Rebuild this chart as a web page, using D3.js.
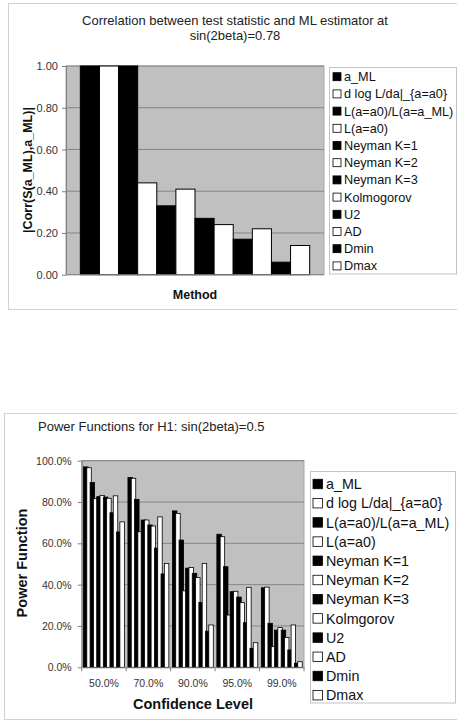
<!DOCTYPE html>
<html>
<head>
<meta charset="utf-8">
<script src="https://cdn.jsdelivr.net/npm/d3@7"></script>
<style>
  html, body { margin: 0; padding: 0; background: #fff; }
  svg { display: block; font-family: "Liberation Sans", Arial, sans-serif; }
</style>
</head>
<body>
<svg id="chart" width="457" height="721"></svg>
<script>
// ---- data ----
const methods = ["a_ML", "d log L/da|_{a=a0}", "L(a=a0)/L(a=a_ML)", "L(a=a0)", "Neyman K=1",
  "Neyman K=2", "Neyman K=3", "Kolmogorov", "U2", "AD", "Dmin", "Dmax"];
const powerLegend = ["a_ML", "d log L/da|_{a=a0}", "L(a=a0)/L(a=a_ML)", "L(a=a0)", "Neyman K=1",
  "Neyman K=2", "Neyman K=3", "Kolmgorov", "U2", "AD", "Dmin", "Dmax"];

// |Corr(S(a_ML), a_ML)| at sin(2beta)=0.78, one value per method
const correlations = [1.00, 1.00, 1.00, 0.44, 0.33, 0.41, 0.27, 0.24, 0.17, 0.22, 0.06, 0.14];
const corrTicks = [0, 0.2, 0.4, 0.6, 0.8, 1.0];

// Power (%) for H1: sin(2beta)=0.5, one array per confidence level, methods in order
const confidenceLevels = ["50.0%", "70.0%", "90.0%", "95.0%", "99.0%"];
const power50 = [97.0, 96.6, 89.4, 81.6, 82.6, 83.2, 82.4, 81.8, 74.8, 83.0, 65.5, 70.4];
const power70 = [91.9, 91.5, 81.3, 65.6, 71.3, 71.3, 68.9, 68.4, 57.7, 72.8, 45.2, 50.3];
const power90 = [75.7, 74.5, 61.6, 37.0, 48.0, 48.3, 45.5, 43.4, 31.4, 50.3, 17.5, 20.5];
const power95 = [64.4, 63.2, 48.7, 25.3, 36.6, 36.8, 34.0, 31.3, 21.6, 38.7, 9.2, 11.9];
const power99 = [38.5, 38.8, 21.3, 10.0, 18.0, 19.2, 18.0, 14.4, 8.4, 20.5, 2.0, 2.7];
const powerTicks = [0, 20, 40, 60, 80, 100];

const powerTable = [power50, power70, power90, power95, power99];

// ---- drawing ----
const svg = d3.select("#chart");
const fillFor = i => (i % 2 === 0 ? "#000" : "#fff");
const PLOT_BG = "#c0c0c0", GRID = "#858585", AXIS = "#808080", FRAME = "#d2d2d2";

function legend(g, labels, opt) {
  g.append("rect")
    .attr("x", opt.x).attr("y", opt.y).attr("width", opt.w).attr("height", opt.h)
    .attr("fill", "#fff").attr("stroke", "#c4c4c4");
  const row = g.selectAll("g.item").data(labels).join("g").attr("class", "item")
    .attr("transform", (d, i) => `translate(0,${opt.firstY + i * opt.rowH})`);
  row.append("rect")
    .attr("x", opt.swX).attr("y", -opt.sw / 2).attr("width", opt.sw).attr("height", opt.sw)
    .attr("fill", (d, i) => fillFor(i)).attr("stroke", "#000").attr("stroke-width", 0.8);
  row.append("text")
    .attr("x", opt.textX).attr("y", 0).attr("dy", "0.36em")
    .attr("font-size", opt.font).attr("fill", "#111").text(d => d);
}

// ===== Chart 1: correlation =====
{
  const g = svg.append("g");
  g.append("rect").attr("x", 8.5).attr("y", 3.5).attr("width", 470).attr("height", 306)
    .attr("fill", "#fff").attr("stroke", FRAME);

  g.append("text").attr("x", 235).attr("y", 20).attr("dy", "0.36em").attr("text-anchor", "middle")
    .attr("font-size", 13).attr("fill", "#222").text("Correlation between test statistic and ML estimator at");
  g.append("text").attr("x", 235).attr("y", 35).attr("dy", "0.36em").attr("text-anchor", "middle")
    .attr("font-size", 13).attr("fill", "#222").text("sin(2beta)=0.78");

  const L = 66, R = 324, T = 66, B = 274.7;
  const y = d3.scaleLinear().domain([0, 1]).range([B, T]);
  const x = d3.scaleBand().domain(methods).range([L, R]).paddingInner(0).paddingOuter(0.75);

  g.append("rect").attr("x", L).attr("y", T).attr("width", R - L).attr("height", B - T)
    .attr("fill", PLOT_BG).attr("stroke", "#a8a8a8");
  g.selectAll("line.grid").data(corrTicks.filter(t => t > 0)).join("line").attr("class", "grid")
    .attr("x1", L).attr("x2", R).attr("y1", d => y(d)).attr("y2", d => y(d))
    .attr("stroke", GRID).attr("stroke-width", 1);

  g.selectAll("rect.bar").data(correlations).join("rect").attr("class", "bar")
    .attr("x", (d, i) => x(methods[i])).attr("y", d => y(d))
    .attr("width", x.bandwidth()).attr("height", d => B - y(d))
    .attr("fill", (d, i) => fillFor(i)).attr("stroke", "#000").attr("stroke-width", 1);

  const ya = g.append("g").attr("transform", `translate(${L},0)`)
    .call(d3.axisLeft(y).tickValues(corrTicks).tickFormat(d3.format(".2f")).tickSize(4).tickPadding(4).tickSizeOuter(0));
  ya.select(".domain").attr("stroke", AXIS);
  ya.selectAll(".tick line").attr("stroke", AXIS);
  ya.selectAll("text").attr("font-size", 11).attr("fill", "#333").attr("font-family", null);

  g.append("line").attr("x1", L).attr("x2", R).attr("y1", B).attr("y2", B).attr("stroke", AXIS);

  g.append("text").attr("transform", `translate(27,170) rotate(-90)`).attr("dy", "0.36em")
    .attr("text-anchor", "middle").attr("font-size", 12.5).attr("font-weight", "bold").attr("fill", "#111")
    .text("|Corr(S(a_ML),a_ML)|");
  g.append("text").attr("x", 195).attr("y", 294).attr("dy", "0.36em").attr("text-anchor", "middle")
    .attr("font-size", 12.5).attr("font-weight", "bold").attr("fill", "#111").text("Method");

  legend(g, methods, { x: 329.5, y: 67.5, w: 127, h: 206.5, firstY: 76.7, rowH: 17.2,
    swX: 333, sw: 8, textX: 344, font: 12.7 });
}

// ===== Chart 2: power functions =====
{
  const g = svg.append("g");
  g.append("rect").attr("x", 4.5).attr("y", 413.5).attr("width", 470).attr("height", 306)
    .attr("fill", "#fff").attr("stroke", FRAME);

  g.append("text").attr("x", 38).attr("y", 426).attr("dy", "0.36em")
    .attr("font-size", 13).attr("fill", "#222").text("Power Functions for H1: sin(2beta)=0.5");

  const L = 81.7, R = 304, T = 460.7, B = 667.3;
  const y = d3.scaleLinear().domain([0, 100]).range([B, T]);
  const x0 = d3.scaleBand().domain(confidenceLevels).range([L, R]).paddingInner(0.08).paddingOuter(0.04);
  const barW = x0.bandwidth() * 0.11;
  const step = (x0.bandwidth() - barW) / (methods.length - 1);

  g.append("rect").attr("x", L).attr("y", T).attr("width", R - L).attr("height", B - T)
    .attr("fill", PLOT_BG).attr("stroke", "#a8a8a8");
  g.selectAll("line.grid").data(powerTicks.filter(t => t > 0)).join("line").attr("class", "grid")
    .attr("x1", L).attr("x2", R).attr("y1", d => y(d)).attr("y2", d => y(d))
    .attr("stroke", GRID).attr("stroke-width", 1);

  const groups = g.selectAll("g.level").data(powerTable).join("g").attr("class", "level")
    .attr("transform", (d, i) => `translate(${x0(confidenceLevels[i])},0)`);
  groups.selectAll("rect").data(d => d).join("rect")
    .attr("x", (d, i) => i * step).attr("y", d => y(d))
    .attr("width", barW).attr("height", d => B - y(d))
    .attr("fill", (d, i) => fillFor(i)).attr("stroke", "#000").attr("stroke-width", 0.8);

  const ya = g.append("g").attr("transform", `translate(${L},0)`)
    .call(d3.axisLeft(y).tickValues(powerTicks).tickFormat(d => d.toFixed(1) + "%").tickSize(4).tickPadding(6).tickSizeOuter(0));
  ya.select(".domain").attr("stroke", AXIS);
  ya.selectAll(".tick line").attr("stroke", AXIS);
  ya.selectAll("text").attr("font-size", 10.5).attr("fill", "#333").attr("font-family", null);

  const xa = g.append("g").attr("transform", `translate(0,${B})`)
    .call(d3.axisBottom(x0).tickSize(0).tickPadding(0).tickSizeOuter(0));
  xa.select(".domain").attr("stroke", AXIS);
  xa.selectAll("text").attr("y", 15.7).attr("dy", "0.36em")
    .attr("font-size", 10.5).attr("fill", "#333").attr("font-family", null);
  // category separators below the axis
  g.selectAll("line.sep").data(d3.range(confidenceLevels.length + 1)).join("line").attr("class", "sep")
    .attr("x1", i => L + i * x0.step()).attr("x2", i => L + i * x0.step())
    .attr("y1", B).attr("y2", B + 4).attr("stroke", AXIS);

  g.append("text").attr("transform", `translate(22,563) rotate(-90)`).attr("dy", "0.36em")
    .attr("text-anchor", "middle").attr("font-size", 14.5).attr("font-weight", "bold").attr("fill", "#111")
    .text("Power Function");
  g.append("text").attr("x", 193).attr("y", 704).attr("dy", "0.36em").attr("text-anchor", "middle")
    .attr("font-size", 14.5).attr("font-weight", "bold").attr("fill", "#111").text("Confidence Level");

  legend(g, powerLegend, { x: 310.5, y: 471.5, w: 145, h: 231.5, firstY: 484, rowH: 19.2,
    swX: 313, sw: 9.5, textX: 326, font: 14.3 });
}
</script>
</body>
</html>
